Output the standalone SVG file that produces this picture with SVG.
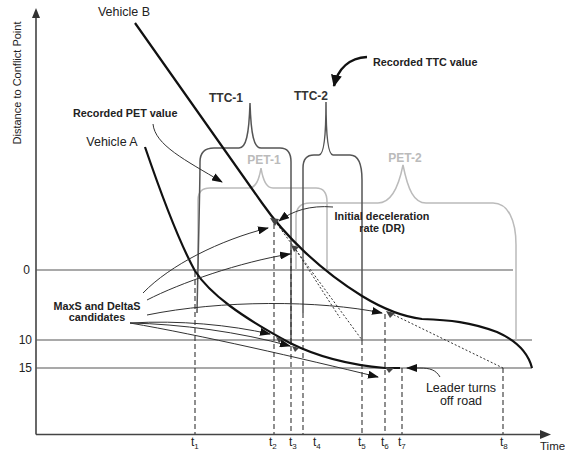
<svg xmlns="http://www.w3.org/2000/svg" width="565" height="452" viewBox="0 0 565 452">
<defs>
<marker id="ah" markerUnits="userSpaceOnUse" markerWidth="11" markerHeight="8" refX="10" refY="4" orient="auto"><path d="M0,0 L11,4 L0,8 z" fill="#111"/></marker>
<marker id="ahb" markerUnits="userSpaceOnUse" markerWidth="12" markerHeight="11" refX="11" refY="5.5" orient="auto"><path d="M0,0 L12,5.5 L0,11 z" fill="#111"/></marker>
<style>
text{font-family:"Liberation Sans",Arial,sans-serif;fill:#222}
.b{font-weight:bold;font-size:10.8px}
.r{font-size:12.5px}
.pet{font-weight:bold;font-size:12px;fill:#bbb}
.ttc{font-weight:bold;font-size:12px;fill:#333}
.axis{stroke:#444;stroke-width:1.6;fill:none}
.hl{stroke:#555;stroke-width:1.1;fill:none}
.veh{stroke:#111;stroke-width:2.2;fill:none;stroke-linejoin:round}
.dash{stroke:#333;stroke-width:1.1;stroke-dasharray:5,3;fill:none}
.dot{stroke:#333;stroke-width:1;stroke-dasharray:2,2;fill:none}
.tb{stroke:#555;stroke-width:1.5;fill:none}
.pb{stroke:#bbb;stroke-width:1.5;fill:none}
.ar{stroke:#333;stroke-width:1;fill:none}
.mk{fill:#444}
.sub{font-size:8px}
</style>
</defs>

<g id="axes">
<path class="axis" d="M36,434.5 L541,434.5 M36,434.5 L36,17"/>
<path d="M36,8 L40,18 L32,18 z" fill="#333"/>
<path d="M551,434.5 L540,430 L540,439 z" fill="#333"/>
<text x="21" y="83" font-size="11" text-anchor="middle" transform="rotate(-90 21 83)">Distance to Conflict Point</text>
<text x="540" y="450" font-size="11.5">Time</text>
</g>

<g id="levels">
<path class="hl" d="M36,270 L513,270"/>
<path class="hl" d="M36,340 L532,340" stroke="#222"/>
<path class="hl" d="M36,368 L532,368"/>
<text x="30" y="274" font-size="12" text-anchor="end">0</text>
<text x="32" y="344" font-size="12" text-anchor="end">10</text>
<text x="32" y="372" font-size="12" text-anchor="end">15</text>
</g>

<g id="brackets">
<path class="pb" d="M198,270 L198,200 Q198,188 210,188 L249,188 C256,188 259,180 261,168 C263,180 266,188 273,188 L316,188 Q327,188 327,202 L327,270"/>
<path class="pb" d="M296,270 L296,217 Q296,203 310,203 L378,203 C390,203 398,190 403,165 C408,190 414,203 426,203 L493,203 C508,203 516,220 516,245 L516,340"/>
<path class="tb" d="M197,313 C198,260 200,190 200,162 Q200,148 214,148 L239,148 C246,148 249,135 250,103 C251,135 254,148 261,148 L280,148 Q291,148 291,162 L291,345"/>
<path class="tb" d="M303,313 L303,168 Q303,155 314,155 L319,155 C324,155 326,135 326,102 C326,135 328,155 333,155 L350,155 C358,155 362,162 362,180 L362,340"/>
<text class="ttc" x="226" y="102" text-anchor="middle">TTC-1</text>
<text class="ttc" x="311" y="100" text-anchor="middle">TTC-2</text>
<text class="pet" x="264" y="164" text-anchor="middle">PET-1</text>
<text class="pet" x="405" y="162" text-anchor="middle">PET-2</text>
</g>

<g id="time-marks">
<path class="dash" d="M195,272 L195,434 M274,224 L274,434 M291,250 L291,434 M303,313 L303,434 M362,340 L362,434 M385,314 L385,434 M402,368 L402,434 M503,368 L503,434"/>
<text x="191" y="446" font-size="12">t<tspan class="sub" dy="3">1</tspan></text>
<text x="269" y="446" font-size="12">t<tspan class="sub" dy="3">2</tspan></text>
<text x="289" y="446" font-size="12">t<tspan class="sub" dy="3">3</tspan></text>
<text x="313" y="446" font-size="12">t<tspan class="sub" dy="3">4</tspan></text>
<text x="358" y="446" font-size="12">t<tspan class="sub" dy="3">5</tspan></text>
<text x="381" y="446" font-size="12">t<tspan class="sub" dy="3">6</tspan></text>
<text x="398" y="446" font-size="12">t<tspan class="sub" dy="3">7</tspan></text>
<text x="500" y="446" font-size="12">t<tspan class="sub" dy="3">8</tspan></text>
</g>

<g id="extrapolations">
<path class="dot" d="M277,224 L362,340 M296,250 L340,318 M390,313 L503,368"/>
</g>

<g id="vehicle-b">
<path class="veh" d="M135,23 L262,203 C285,236 320,270 362,296 C385,310 405,317 422,319 C450,320 470,322 497,332 C515,340 528,352 532,368"/>
<text class="r" x="124" y="16" text-anchor="middle">Vehicle B</text>
</g>

<g id="vehicle-a">
<path class="veh" d="M145,147 C158,185 178,240 195,271 C210,294 240,316 290,343 C320,358 350,365 385,368 L400,368"/>
<text class="r" x="112" y="146" text-anchor="middle">Vehicle A</text>
</g>

<g id="candidates-markers">
<path class="mk" d="M270,218 L279,219 L275,226 z"/>
<path class="mk" d="M291,245 L299,247 L294,252 z"/>
<path class="mk" d="M276,337 L283,339 L279,343 z"/>
<path class="mk" d="M292,346 L299,348 L295,352 z"/>
<path class="mk" d="M386,311 L395,313 L390,318 z"/>
<path class="mk" d="M385,367 L394,368 L389,373 z"/>
</g>

<g id="connectors">
<path class="ar" d="M143,293 C170,265 220,240 268,228" marker-end="url(#ah)"/>
<path class="ar" d="M147,300 C180,283 240,262 290,254" marker-end="url(#ah)"/>
<path class="ar" d="M147,315 C220,300 320,300 382,313" marker-end="url(#ah)"/>
<path class="ar" d="M130,323 C180,320 230,325 270,334" marker-end="url(#ah)"/>
<path class="ar" d="M130,323 C180,324 240,332 290,346" marker-end="url(#ah)"/>
<path class="ar" d="M130,323 C200,335 300,358 378,377" marker-end="url(#ah)"/>
<path class="ar" d="M153,124 C155,145 185,160 222,182" marker-end="url(#ah)"/>
<path class="ar" d="M333,207 C310,205 292,211 279,221" marker-end="url(#ah)"/>
<path class="ar" d="M440,377 C436,370 430,368 420,368 L407,368" marker-end="url(#ah)"/>
<path d="M367,57 C350,58 338,68 334,86" stroke="#111" stroke-width="2.6" fill="none" marker-end="url(#ahb)"/>
</g>

<g id="labels">
<text class="b" x="73" y="117">Recorded PET value</text>
<text class="b" x="373" y="66">Recorded TTC value</text>
<text class="b" x="382" y="220" text-anchor="middle">Initial deceleration</text>
<text class="b" x="382" y="232" text-anchor="middle">rate (DR)</text>
<text class="b" x="97" y="310" text-anchor="middle">MaxS and DeltaS</text>
<text class="b" x="97" y="321" text-anchor="middle">candidates</text>
<text class="r" x="461" y="392" text-anchor="middle" font-size="12">Leader turns</text>
<text class="r" x="461" y="405" text-anchor="middle" font-size="12">off road</text>
</g>
</svg>
